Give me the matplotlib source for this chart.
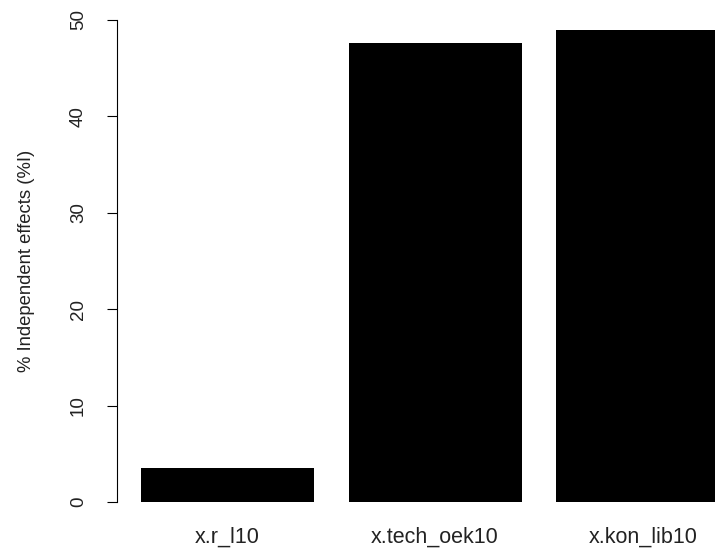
import matplotlib
matplotlib.use("Agg")
import matplotlib.pyplot as plt

# Values
labels = ["x.r_l10", "x.tech_oek10", "x.kon_lib10"]
effects = [3.5, 47.6, 49.0]
yticks = [0, 10, 20, 30, 40, 50]

plt.rcParams["font.family"] = ["Liberation Sans", "DejaVu Sans"]

W, H = 715, 551
fig = plt.figure(figsize=(W / 100, H / 100), dpi=100)
# axes placed in pixel terms like the R plot region
left, right, top, bottom = 117, 715, 20, 502
ax = fig.add_axes([left / W, 1 - bottom / H, (right - left) / W, (bottom - top) / H])

# R barplot layout: width 1, space 0.2
xs = [0.2 + i * 1.2 for i in range(len(effects))]
ax.bar(xs, effects, width=1.0, align="edge", color="black", edgecolor="none")

ax.set_xlim(0.061, 3.518)
ax.set_ylim(0, 50)
for s in ["top", "right", "bottom"]:
    ax.spines[s].set_visible(False)
ax.spines["left"].set_linewidth(0.8)

ax.set_yticks(yticks)
ax.set_yticklabels([str(t) for t in yticks], rotation=90, va="center",
                   fontsize=13.5, color="#222222")
ax.tick_params(axis="y", length=7.2, width=0.8, pad=14.4)
ax.set_xticks([x + 0.5 for x in xs])
ax.set_xticklabels(labels, fontsize=15.5, color="#222222")
ax.tick_params(axis="x", length=0, pad=18)
ax.set_ylabel("% Independent effects (%I)", fontsize=13.3, labelpad=25.5,
              color="#222222")

fig.savefig("out.png", dpi=100)
